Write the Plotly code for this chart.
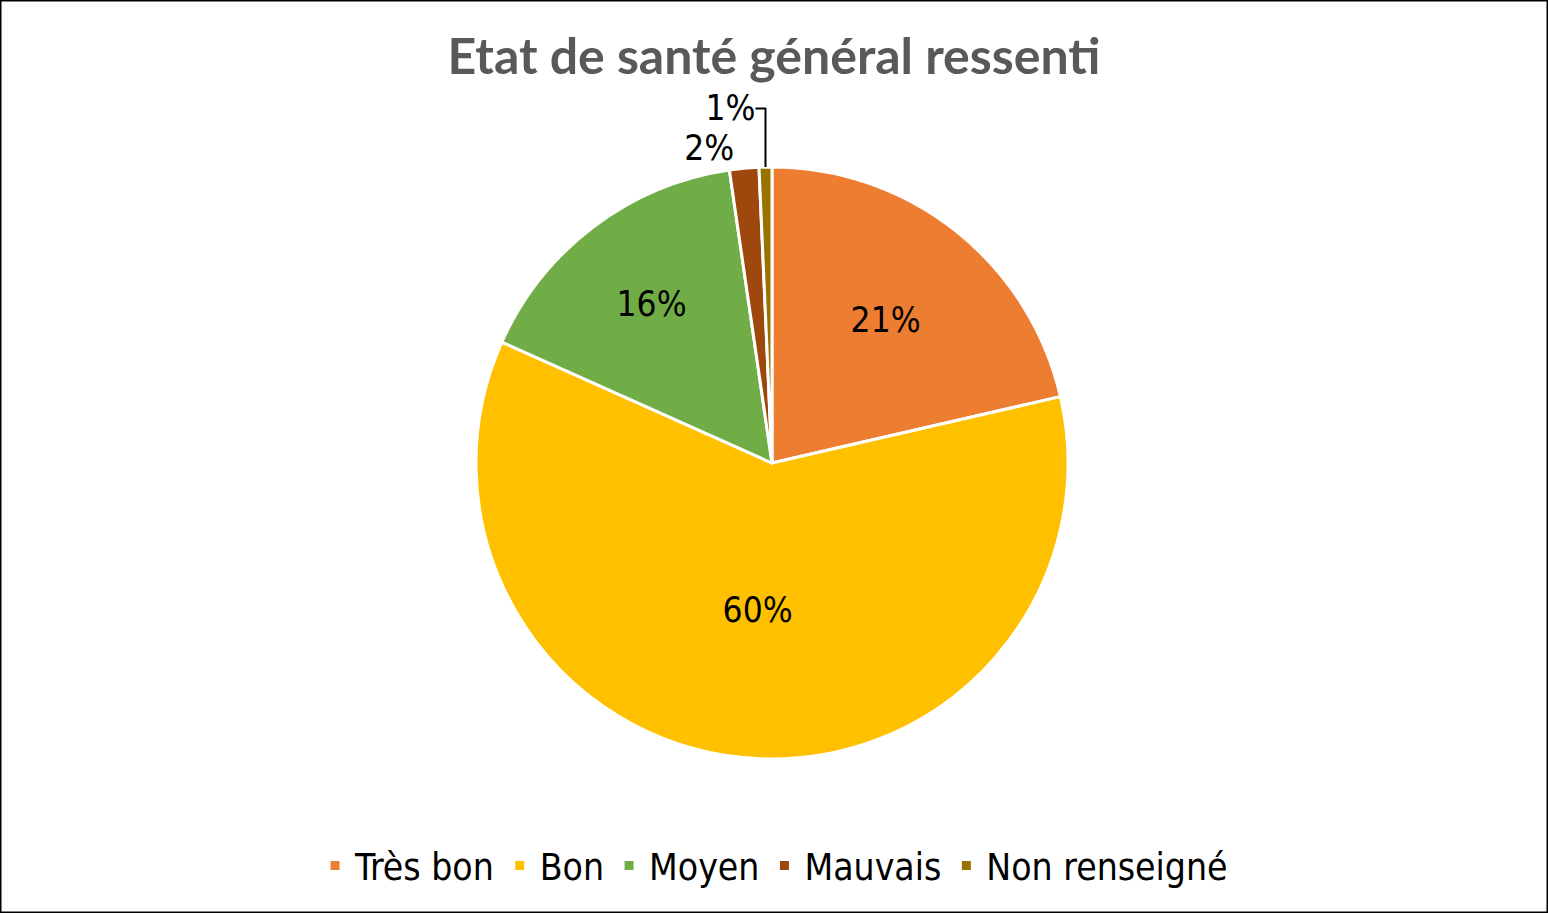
import plotly.graph_objects as go

categories = ["Très bon", "Bon", "Moyen", "Mauvais", "Non renseigné"]
values = [21.4, 60.3, 16.0, 1.6, 0.7]
colors = ["#ED7D31", "#FFC000", "#70AD47", "#9E480E", "#997300"]
text_positions = ["inside", "inside", "inside", "outside", "outside"]

W, H = 1548, 913
cx, cy, r = 772, 463, 296
label_font = "DejaVu Sans Condensed, Roboto, sans-serif"

fig = go.Figure(go.Pie(
    labels=categories,
    values=values,
    sort=False,
    direction="clockwise",
    rotation=0,
    marker=dict(colors=colors, line=dict(color="white", width=3)),
    texttemplate="%{percent:.0%}",
    textposition=text_positions,
    insidetextorientation="horizontal",
    textfont=dict(family=label_font, size=35, color="black"),
    domain=dict(x=[(cx - r) / W, (cx + r) / W], y=[1 - (cy + r) / H, 1 - (cy - r) / H]),
    hoverinfo="label+percent",
))

fig.update_layout(
    width=W, height=H,
    margin=dict(l=0, r=0, t=0, b=0),
    paper_bgcolor="white",
    title=dict(text="<b>Etat de santé général ressenti</b>", x=0.5, xanchor="center",
               y=1 - 56 / H, yanchor="middle",
               font=dict(family="Lato", size=50, color="#595959")),
    legend=dict(orientation="h", x=0.5, xanchor="center", y=1 - 866 / H, yanchor="middle",
                font=dict(family=label_font, size=37, color="black"),
                itemwidth=30, traceorder="normal"),
    shapes=[dict(type="rect", xref="paper", yref="paper", x0=0, y0=0, x1=1, y1=1,
                 line=dict(color="black", width=3), fillcolor="rgba(0,0,0,0)")],
)

fig.write_html("out.html", config={"displayModeBar": False},
               post_script="document.body.style.margin='0';")
